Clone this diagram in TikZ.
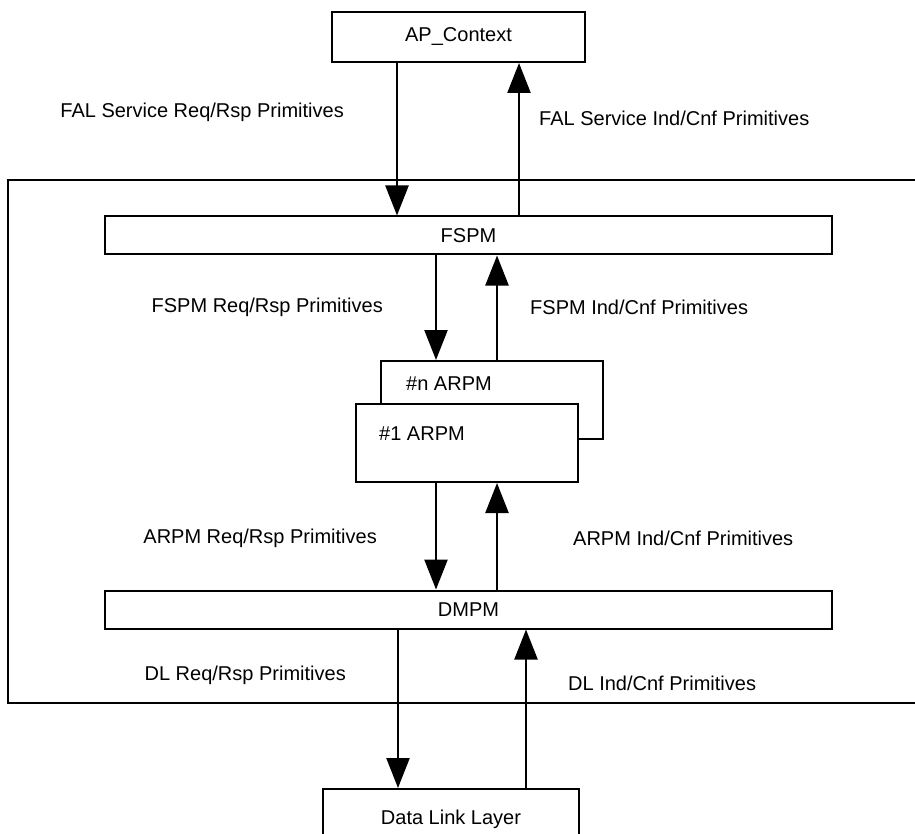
\documentclass[tikz,border=0pt]{standalone}
\usepackage{fontspec}
\setmainfont{Liberation Sans}
\usetikzlibrary{arrows.meta}
\tikzset{
  block/.style ={rectangle, draw=black, line width=1pt, inner sep=0pt,
                 font=\fontsize{10}{12}\selectfont},
  layer/.style ={block, minimum width=363.5pt, minimum height=19pt},
  arpm/.style  ={block, minimum width=111pt, minimum height=39pt},
  frame/.style ={rectangle, draw=black, line width=1.2pt, inner sep=0pt},
  txt/.style   ={inner sep=0pt, font=\fontsize{10}{12}\selectfont},
  flow/.style  ={-{Triangle[length=15pt, width=11.5pt]}, line width=1.2pt},
  lbl/.style   ={inner sep=0pt, font=\fontsize{10}{12}\selectfont},
}
\begin{document}
\begin{tikzpicture}[x=0.5pt, y=-0.5pt]
    \useasboundingbox (0,0) rectangle (915,834);

    % FAL frame, its right side runs off the page
    \node[frame, minimum width=466pt, minimum height=261.5pt] (fal) at (474,441.5) {};

    \node[block, minimum width=126.5pt, minimum height=25pt] (ap) at (458.5,37) {AP\_Context};
    \node[layer] (fspm) at (468.5,235.5) {FSPM};
    \node[arpm] (arpmn) at (491.5,400) {};
    \node[arpm, fill=white] (arpm1) at (466.5,443) {};
    \node[txt] (arpmntxt) at (449,384) {\#n ARPM};
    \node[txt] (arpm1txt) at (422,434) {\#1 ARPM};
    \node[layer] (dmpm) at (468.5,609.5) {DMPM};
    \node[block, minimum width=128pt, minimum height=30pt] (dll) at (451,819) {Data Link Layer};

    % x positions of the connectors
    \coordinate (falreq)  at (397,0);
    \coordinate (falind)  at (519,0);
    \coordinate (fspmreq) at (436,0);
    \coordinate (fspmind) at (497,0);
    \coordinate (dlreq)   at (398,0);
    \coordinate (dlind)   at (526,0);

    \draw[flow] (falreq |- ap.south) -- (falreq |- fspm.north)
        node[lbl, pos=.325, left=26pt] {FAL Service Req/Rsp Primitives};
    \draw[flow] (falind |- fspm.north) -- (falind |- ap.south)
        node[lbl, pos=.64, right=9.5pt] {FAL Service Ind/Cnf Primitives};

    \draw[flow] (fspmreq |- fspm.south) -- (fspmreq |- arpmn.north)
        node[lbl, pos=.5, left=26pt] {FSPM Req/Rsp Primitives};
    \draw[flow] (fspmind |- arpmn.north) -- (fspmind |- fspm.south)
        node[lbl, pos=.5, right=16pt] {FSPM Ind/Cnf Primitives};

    \draw[flow] (fspmreq |- arpm1.south) -- (fspmreq |- dmpm.north)
        node[lbl, pos=.52, left=29pt] {ARPM Req/Rsp Primitives};
    \draw[flow] (fspmind |- dmpm.north) -- (fspmind |- arpm1.south)
        node[lbl, pos=.48, right=37.5pt] {ARPM Ind/Cnf Primitives};

    \draw[flow] (dlreq |- dmpm.south) -- (dlreq |- dll.north)
        node[lbl, pos=.29, left=25.5pt] {DL Req/Rsp Primitives};
    \draw[flow] (dlind |- dll.north) -- (dlind |- dmpm.south)
        node[lbl, pos=.66, right=20.5pt] {DL Ind/Cnf Primitives};
  \end{tikzpicture}
\end{document}
